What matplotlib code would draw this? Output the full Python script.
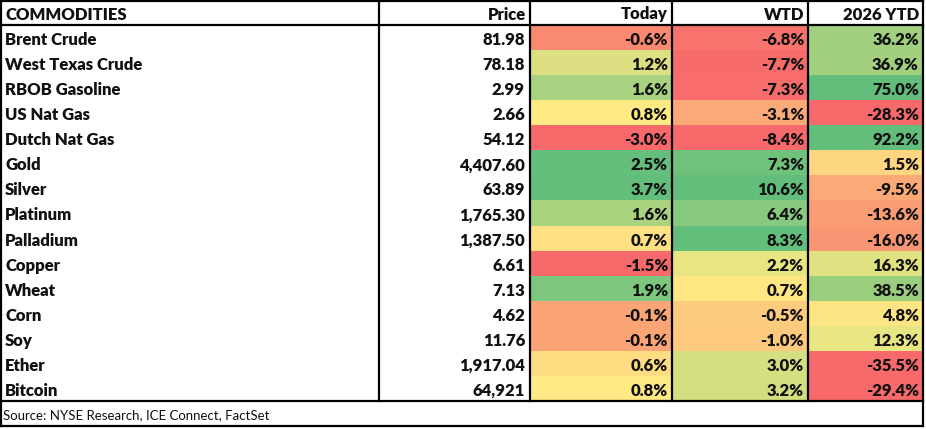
import matplotlib
matplotlib.use("Agg")
import matplotlib.pyplot as plt
from matplotlib.patches import Rectangle

# ---- data ----
commodities = ["Brent Crude", "West Texas Crude", "RBOB Gasoline", "US Nat Gas",
               "Dutch Nat Gas", "Gold", "Silver", "Platinum", "Palladium", "Copper",
               "Wheat", "Corn", "Soy", "Ether", "Bitcoin"]
price = ["81.98", "78.18", "2.99", "2.66", "54.12", "4,407.60", "63.89", "1,765.30",
         "1,387.50", "6.61", "7.13", "4.62", "11.76", "1,917.04", "64,921"]
today = [-0.6, 1.2, 1.6, 0.8, -3.0, 2.5, 3.7, 1.6, 0.7, -1.5, 1.9, -0.1, -0.1, 0.6, 0.8]
wtd = [-6.8, -7.7, -7.3, -3.1, -8.4, 7.3, 10.6, 6.4, 8.3, 2.2, 0.7, -0.5, -1.0, 3.0, 3.2]
ytd = [36.2, 36.9, 75.0, -28.3, 92.2, 1.5, -9.5, -13.6, -16.0, 16.3, 38.5, 4.8, 12.3, -35.5, -29.4]
headers = ["COMMODITIES", "Price", "Today", "WTD", "2026 YTD"]
source = "Source: NYSE Research, ICE Connect, FactSet"

# ---- style: conditional-format fills (as seen) ----
today_fill = ["#F98A71", "#DCE082", "#A8D27F", "#FFEA84", "#F8696B", "#65BF7C", "#63BE7B",
              "#AAD380", "#FFE082", "#F8696B", "#7DC67D", "#FBA577", "#FBA577", "#FEDC81", "#FFE984"]
wtd_fill = ["#F8736D", "#F86B6B", "#F86D6C", "#FBAA77", "#F8696B", "#6FC27C", "#63BE7B",
            "#87C97E", "#63BE7B", "#E8E583", "#FEE683", "#FDCB7E", "#FDC97D", "#D5DF81", "#D3DE81"]
ytd_fill = ["#A2D07F", "#A2D07F", "#63BE7B", "#F8696B", "#63BE7B", "#FED580", "#FBAA77",
            "#FA9D75", "#F99673", "#E0E282", "#9ACD7E", "#FEE583", "#E8E583", "#F8696B", "#F8696B"]

# ---- layout (pixels) ----
W, H = 926, 429
col_edges = [1, 379, 530, 672, 808, 923]
top, header_bot, rows_bot, src_bot = 1, 25, 401, 426
n = len(commodities)
row_h = (rows_bot - header_bot) / n

FONT = "Lato"
fig = plt.figure(figsize=(W / 100, H / 100), dpi=100)
ax = fig.add_axes([0, 0, 1, 1])
ax.set_xlim(0, W)
ax.set_ylim(H, 0)
ax.axis("off")

# fills
for ci, fills in zip([2, 3, 4], [today_fill, wtd_fill, ytd_fill]):
    x0, x1 = col_edges[ci], col_edges[ci + 1]
    for i, c in enumerate(fills):
        y0 = header_bot + i * row_h
        ax.add_patch(Rectangle((x0, y0), x1 - x0, row_h, facecolor=c, edgecolor="none", zorder=1))

# header text
txt_kw = dict(fontsize=12, fontweight="heavy", family=FONT, color="#111111", zorder=3)
hy = (top + header_bot) / 2 + 1.5
ax.text(col_edges[0] + 4, hy, headers[0], ha="left", va="center", **txt_kw)
for ci in range(1, 5):
    ax.text(col_edges[ci + 1] - 4, hy, headers[ci], ha="right", va="center", **txt_kw)

# body text
for i in range(n):
    yc = header_bot + (i + 0.5) * row_h + 2.5
    ax.text(col_edges[0] + 4, yc, commodities[i], ha="left", va="center", **txt_kw)
    ax.text(col_edges[2] - 5, yc, price[i], ha="right", va="center", **txt_kw)
    for ci, vals in zip([2, 3, 4], [today, wtd, ytd]):
        ax.text(col_edges[ci + 1] - 4, yc, f"{vals[i]:.1f}%", ha="right", va="center", **txt_kw)

# source
ax.text(col_edges[0] + 2, (rows_bot + src_bot) / 2 + 1.5, source, ha="left", va="center",
        fontsize=9.5, family=FONT, color="#111111", zorder=3)

# lines
lw = 1.6
line_kw = dict(color="black", linewidth=lw, zorder=4, solid_capstyle="projecting")
ax.plot([col_edges[0], col_edges[-1]], [top, top], **line_kw)
ax.plot([col_edges[0], col_edges[-1]], [header_bot, header_bot], **line_kw)
ax.plot([col_edges[0], col_edges[-1]], [rows_bot, rows_bot], **line_kw)
ax.plot([col_edges[0], col_edges[-1]], [src_bot, src_bot], **line_kw)
ax.plot([col_edges[0], col_edges[0]], [top, src_bot], **line_kw)
ax.plot([col_edges[-1], col_edges[-1]], [top, src_bot], **line_kw)
for x in col_edges[1:-1]:
    ax.plot([x, x], [top, rows_bot], **line_kw)

fig.savefig("out.png", dpi=100, facecolor="white")
